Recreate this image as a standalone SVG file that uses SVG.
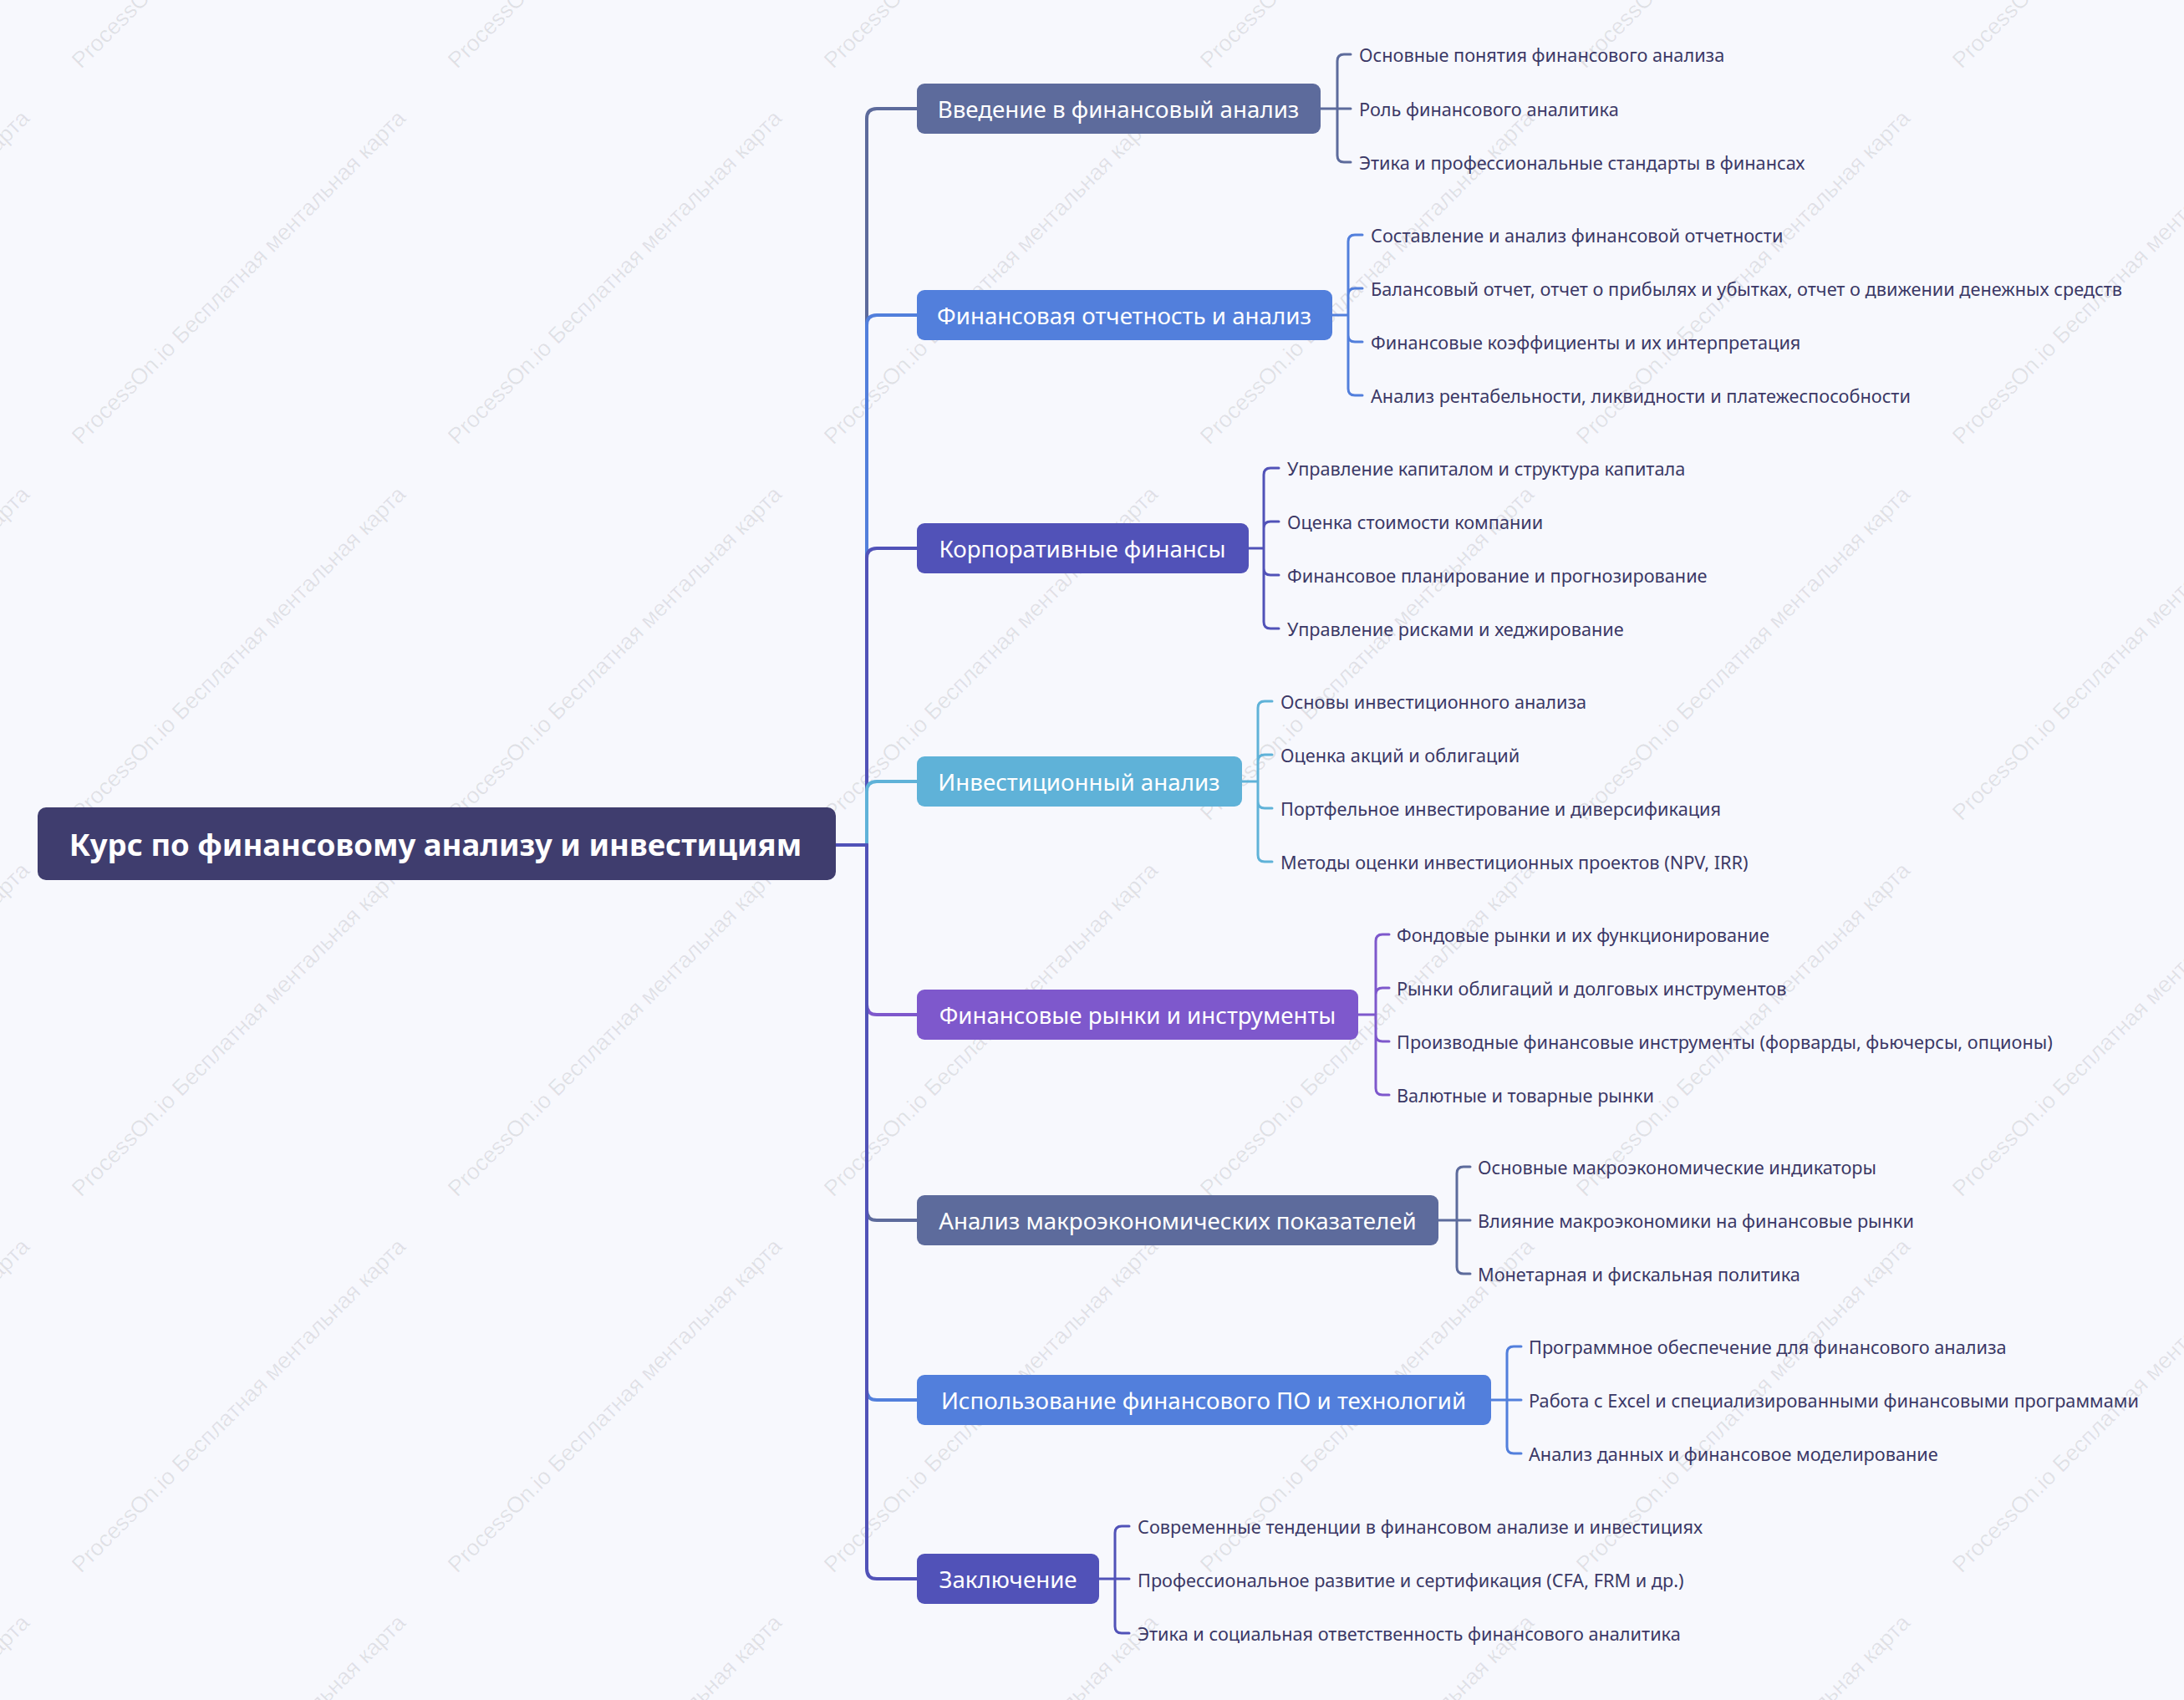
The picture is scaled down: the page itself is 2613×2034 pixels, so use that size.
<svg xmlns="http://www.w3.org/2000/svg" width="2613" height="2034" viewBox="0 0 2613 2034">
<defs>
<style>
.bg{fill:#f7f8fd}
.wm{font-family:"Liberation Sans",Arial,sans-serif;font-size:27px;fill:#000;fill-opacity:0.09}
.root{fill:#3f3d6e}
.rootT{font-family:"Noto Sans","Open Sans",sans-serif;font-size:36.5px;font-weight:bold;fill:#fff;text-anchor:middle;dominant-baseline:central}
.brT{font-family:"Noto Sans","Open Sans",sans-serif;font-size:27.7px;fill:#fff;text-anchor:middle;dominant-baseline:central}
.lf{font-family:"Noto Sans","Open Sans",sans-serif;font-size:21.7px;fill:#3b3866;dominant-baseline:central}
.c{fill:none;stroke-width:4;stroke-linecap:round;stroke-linejoin:round}
.lc{fill:none;stroke-width:3;stroke-linecap:round;stroke-linejoin:round}
.k1{stroke:#5d6b9c}.k2{stroke:#527fdc}.k3{stroke:#5152b8}.k4{stroke:#5fb2d8}.k5{stroke:#7e58cc}
.f1{fill:#5d6b9c}.f2{fill:#527fdc}.f3{fill:#5152b8}.f4{fill:#5fb2d8}.f5{fill:#7e58cc}
</style>
</defs>
<rect class="bg" x="0" y="0" width="2613" height="2034"/>
<g id="watermark">
<g id="wm-r0">
<text class="wm" transform="translate(-353,83) rotate(-45)">ProcessOn.io Бесплатная ментальная карта</text>
<text class="wm" transform="translate(97,83) rotate(-45)">ProcessOn.io Бесплатная ментальная карта</text>
<text class="wm" transform="translate(547,83) rotate(-45)">ProcessOn.io Бесплатная ментальная карта</text>
<text class="wm" transform="translate(997,83) rotate(-45)">ProcessOn.io Бесплатная ментальная карта</text>
<text class="wm" transform="translate(1447,83) rotate(-45)">ProcessOn.io Бесплатная ментальная карта</text>
<text class="wm" transform="translate(1897,83) rotate(-45)">ProcessOn.io Бесплатная ментальная карта</text>
<text class="wm" transform="translate(2347,83) rotate(-45)">ProcessOn.io Бесплатная ментальная карта</text>
</g>
<g id="wm-r1">
<text class="wm" transform="translate(-353,533) rotate(-45)">ProcessOn.io Бесплатная ментальная карта</text>
<text class="wm" transform="translate(97,533) rotate(-45)">ProcessOn.io Бесплатная ментальная карта</text>
<text class="wm" transform="translate(547,533) rotate(-45)">ProcessOn.io Бесплатная ментальная карта</text>
<text class="wm" transform="translate(997,533) rotate(-45)">ProcessOn.io Бесплатная ментальная карта</text>
<text class="wm" transform="translate(1447,533) rotate(-45)">ProcessOn.io Бесплатная ментальная карта</text>
<text class="wm" transform="translate(1897,533) rotate(-45)">ProcessOn.io Бесплатная ментальная карта</text>
<text class="wm" transform="translate(2347,533) rotate(-45)">ProcessOn.io Бесплатная ментальная карта</text>
</g>
<g id="wm-r2">
<text class="wm" transform="translate(-353,983) rotate(-45)">ProcessOn.io Бесплатная ментальная карта</text>
<text class="wm" transform="translate(97,983) rotate(-45)">ProcessOn.io Бесплатная ментальная карта</text>
<text class="wm" transform="translate(547,983) rotate(-45)">ProcessOn.io Бесплатная ментальная карта</text>
<text class="wm" transform="translate(997,983) rotate(-45)">ProcessOn.io Бесплатная ментальная карта</text>
<text class="wm" transform="translate(1447,983) rotate(-45)">ProcessOn.io Бесплатная ментальная карта</text>
<text class="wm" transform="translate(1897,983) rotate(-45)">ProcessOn.io Бесплатная ментальная карта</text>
<text class="wm" transform="translate(2347,983) rotate(-45)">ProcessOn.io Бесплатная ментальная карта</text>
</g>
<g id="wm-r3">
<text class="wm" transform="translate(-353,1433) rotate(-45)">ProcessOn.io Бесплатная ментальная карта</text>
<text class="wm" transform="translate(97,1433) rotate(-45)">ProcessOn.io Бесплатная ментальная карта</text>
<text class="wm" transform="translate(547,1433) rotate(-45)">ProcessOn.io Бесплатная ментальная карта</text>
<text class="wm" transform="translate(997,1433) rotate(-45)">ProcessOn.io Бесплатная ментальная карта</text>
<text class="wm" transform="translate(1447,1433) rotate(-45)">ProcessOn.io Бесплатная ментальная карта</text>
<text class="wm" transform="translate(1897,1433) rotate(-45)">ProcessOn.io Бесплатная ментальная карта</text>
<text class="wm" transform="translate(2347,1433) rotate(-45)">ProcessOn.io Бесплатная ментальная карта</text>
</g>
<g id="wm-r4">
<text class="wm" transform="translate(-353,1883) rotate(-45)">ProcessOn.io Бесплатная ментальная карта</text>
<text class="wm" transform="translate(97,1883) rotate(-45)">ProcessOn.io Бесплатная ментальная карта</text>
<text class="wm" transform="translate(547,1883) rotate(-45)">ProcessOn.io Бесплатная ментальная карта</text>
<text class="wm" transform="translate(997,1883) rotate(-45)">ProcessOn.io Бесплатная ментальная карта</text>
<text class="wm" transform="translate(1447,1883) rotate(-45)">ProcessOn.io Бесплатная ментальная карта</text>
<text class="wm" transform="translate(1897,1883) rotate(-45)">ProcessOn.io Бесплатная ментальная карта</text>
<text class="wm" transform="translate(2347,1883) rotate(-45)">ProcessOn.io Бесплатная ментальная карта</text>
</g>
<g id="wm-r5">
<text class="wm" transform="translate(-353,2333) rotate(-45)">ProcessOn.io Бесплатная ментальная карта</text>
<text class="wm" transform="translate(97,2333) rotate(-45)">ProcessOn.io Бесплатная ментальная карта</text>
<text class="wm" transform="translate(547,2333) rotate(-45)">ProcessOn.io Бесплатная ментальная карта</text>
<text class="wm" transform="translate(997,2333) rotate(-45)">ProcessOn.io Бесплатная ментальная карта</text>
<text class="wm" transform="translate(1447,2333) rotate(-45)">ProcessOn.io Бесплатная ментальная карта</text>
<text class="wm" transform="translate(1897,2333) rotate(-45)">ProcessOn.io Бесплатная ментальная карта</text>
<text class="wm" transform="translate(2347,2333) rotate(-45)">ProcessOn.io Бесплатная ментальная карта</text>
</g>
</g>
<g id="connectors">
<path class="c k1" d="M1000,1011 H1037 V142 Q1037,130 1049,130 H1098"/>
<path class="c k2" d="M1000,1011 H1037 V389 Q1037,377 1049,377 H1098"/>
<path class="c k3" d="M1000,1011 H1037 V668 Q1037,656 1049,656 H1098"/>
<path class="c k4" d="M1000,1011 H1037 V947 Q1037,935 1049,935 H1098"/>
<path class="c k5" d="M1000,1011 H1037 V1202 Q1037,1214 1049,1214 H1098"/>
<path class="c k1" d="M1000,1011 H1037 V1448 Q1037,1460 1049,1460 H1098"/>
<path class="c k2" d="M1000,1011 H1037 V1663 Q1037,1675 1049,1675 H1098"/>
<path class="c k3" d="M1000,1011 H1037 V1877 Q1037,1889 1049,1889 H1098"/>
<path class="c k3" d="M1000,1011 H1037"/>
<path class="lc k1" d="M1580,130 H1600 M1600,130 V73 Q1600,65 1608,65 H1616 M1600,130 H1616 M1600,130 V186 Q1600,194 1608,194 H1616"/>
<path class="lc k2" d="M1594,377 H1613 M1613,377 V289 Q1613,281 1621,281 H1630 M1613,377 V353 Q1613,345 1621,345 H1630 M1613,377 V401 Q1613,409 1621,409 H1630 M1613,377 V465 Q1613,473 1621,473 H1630"/>
<path class="lc k3" d="M1494,656 H1512 M1512,656 V568 Q1512,560 1520,560 H1530 M1512,656 V632 Q1512,624 1520,624 H1530 M1512,656 V680 Q1512,688 1520,688 H1530 M1512,656 V744 Q1512,752 1520,752 H1530"/>
<path class="lc k4" d="M1486,935 H1505 M1505,935 V847 Q1505,839 1513,839 H1522 M1505,935 V911 Q1505,903 1513,903 H1522 M1505,935 V959 Q1505,967 1513,967 H1522 M1505,935 V1023 Q1505,1031 1513,1031 H1522"/>
<path class="lc k5" d="M1625,1214 H1646 M1646,1214 V1126 Q1646,1118 1654,1118 H1662 M1646,1214 V1190 Q1646,1182 1654,1182 H1662 M1646,1214 V1238 Q1646,1246 1654,1246 H1662 M1646,1214 V1302 Q1646,1310 1654,1310 H1662"/>
<path class="lc k1" d="M1721,1460 H1743 M1743,1460 V1404 Q1743,1396 1751,1396 H1759 M1743,1460 H1759 M1743,1460 V1516 Q1743,1524 1751,1524 H1759"/>
<path class="lc k2" d="M1784,1675 H1803 M1803,1675 V1619 Q1803,1611 1811,1611 H1820 M1803,1675 H1820 M1803,1675 V1731 Q1803,1739 1811,1739 H1820"/>
<path class="lc k3" d="M1315,1889 H1334 M1334,1889 V1834 Q1334,1826 1342,1826 H1351 M1334,1889 H1351 M1334,1889 V1946 Q1334,1954 1342,1954 H1351"/>
</g>
<g id="root">
<rect class="root" x="45" y="966" width="955" height="87" rx="10"/>
<text class="rootT" x="521" y="1010">Курс по финансовому анализу и инвестициям</text>
</g>
<g id="b1">
<rect class="f1" x="1097" y="100" width="483" height="60" rx="9"/>
<text class="brT" x="1338" y="130">Введение в финансовый анализ</text>
<text class="lf" x="1626" y="65">Основные понятия финансового анализа</text>
<text class="lf" x="1626" y="130">Роль финансового аналитика</text>
<text class="lf" x="1626" y="194">Этика и профессиональные стандарты в финансах</text>
</g>
<g id="b2">
<rect class="f2" x="1097" y="347" width="497" height="60" rx="9"/>
<text class="brT" x="1345" y="377">Финансовая отчетность и анализ</text>
<text class="lf" x="1640" y="281">Составление и анализ финансовой отчетности</text>
<text class="lf" x="1640" y="345">Балансовый отчет, отчет о прибылях и убытках, отчет о движении денежных средств</text>
<text class="lf" x="1640" y="409">Финансовые коэффициенты и их интерпретация</text>
<text class="lf" x="1640" y="473">Анализ рентабельности, ликвидности и платежеспособности</text>
</g>
<g id="b3">
<rect class="f3" x="1097" y="626" width="397" height="60" rx="9"/>
<text class="brT" x="1295" y="656">Корпоративные финансы</text>
<text class="lf" x="1540" y="560">Управление капиталом и структура капитала</text>
<text class="lf" x="1540" y="624">Оценка стоимости компании</text>
<text class="lf" x="1540" y="688">Финансовое планирование и прогнозирование</text>
<text class="lf" x="1540" y="752">Управление рисками и хеджирование</text>
</g>
<g id="b4">
<rect class="f4" x="1097" y="905" width="389" height="60" rx="9"/>
<text class="brT" x="1291" y="935">Инвестиционный анализ</text>
<text class="lf" x="1532" y="839">Основы инвестиционного анализа</text>
<text class="lf" x="1532" y="903">Оценка акций и облигаций</text>
<text class="lf" x="1532" y="967">Портфельное инвестирование и диверсификация</text>
<text class="lf" x="1532" y="1031">Методы оценки инвестиционных проектов (NPV, IRR)</text>
</g>
<g id="b5">
<rect class="f5" x="1097" y="1184" width="528" height="60" rx="9"/>
<text class="brT" x="1361" y="1214">Финансовые рынки и инструменты</text>
<text class="lf" x="1671" y="1118">Фондовые рынки и их функционирование</text>
<text class="lf" x="1671" y="1182">Рынки облигаций и долговых инструментов</text>
<text class="lf" x="1671" y="1246">Производные финансовые инструменты (форварды, фьючерсы, опционы)</text>
<text class="lf" x="1671" y="1310">Валютные и товарные рынки</text>
</g>
<g id="b6">
<rect class="f1" x="1097" y="1430" width="624" height="60" rx="9"/>
<text class="brT" x="1409" y="1460">Анализ макроэкономических показателей</text>
<text class="lf" x="1768" y="1396">Основные макроэкономические индикаторы</text>
<text class="lf" x="1768" y="1460">Влияние макроэкономики на финансовые рынки</text>
<text class="lf" x="1768" y="1524">Монетарная и фискальная политика</text>
</g>
<g id="b7">
<rect class="f2" x="1097" y="1645" width="687" height="60" rx="9"/>
<text class="brT" x="1440" y="1675">Использование финансового ПО и технологий</text>
<text class="lf" x="1829" y="1611">Программное обеспечение для финансового анализа</text>
<text class="lf" x="1829" y="1675">Работа с Excel и специализированными финансовыми программами</text>
<text class="lf" x="1829" y="1739">Анализ данных и финансовое моделирование</text>
</g>
<g id="b8">
<rect class="f3" x="1097" y="1859" width="218" height="60" rx="9"/>
<text class="brT" x="1206" y="1889">Заключение</text>
<text class="lf" x="1361" y="1826">Современные тенденции в финансовом анализе и инвестициях</text>
<text class="lf" x="1361" y="1890">Профессиональное развитие и сертификация (CFA, FRM и др.)</text>
<text class="lf" x="1361" y="1954">Этика и социальная ответственность финансового аналитика</text>
</g>
</svg>
